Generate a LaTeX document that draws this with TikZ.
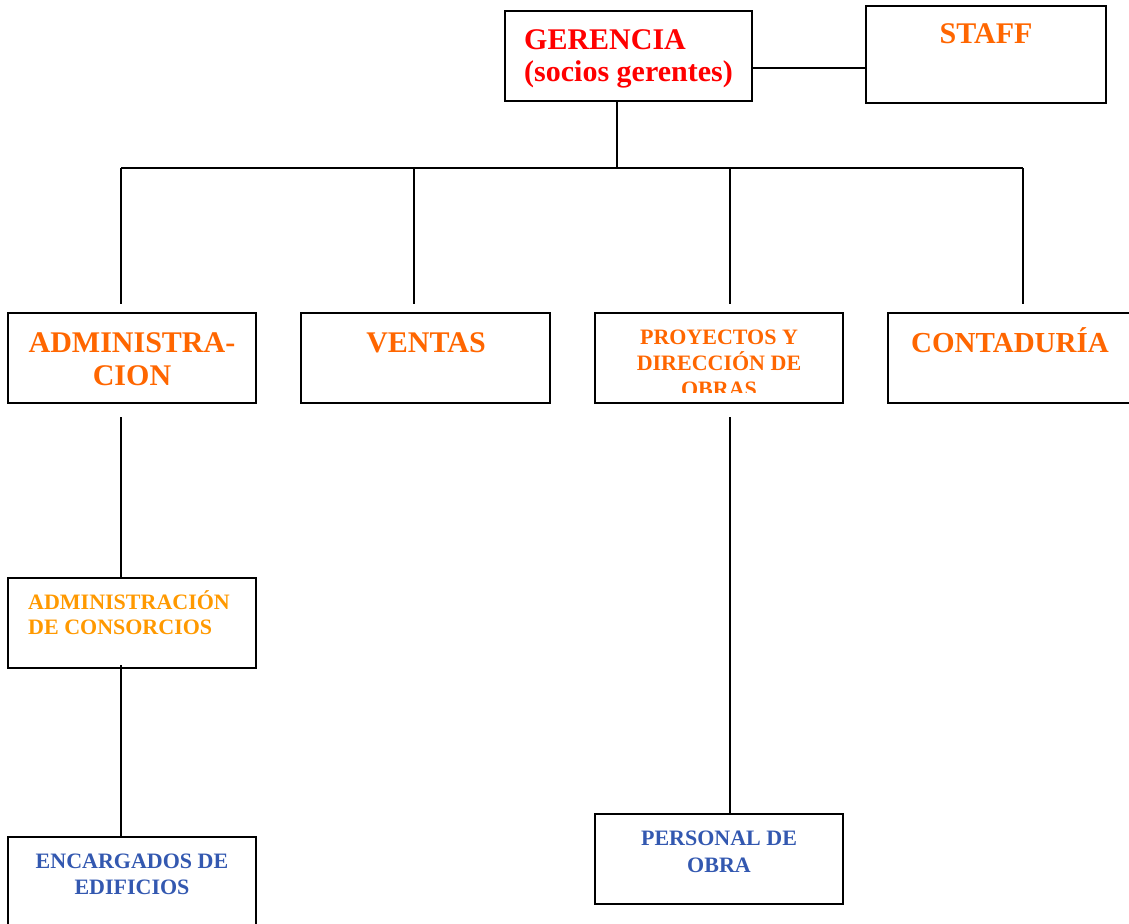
\documentclass[tikz,border=0pt]{standalone}
\usepackage{fontspec}
\setmainfont{Liberation Serif}
\definecolor{cred}{RGB}{255,0,0}
\definecolor{corange}{RGB}{255,102,0}
\definecolor{clight}{RGB}{255,153,0}
\definecolor{cblue}{RGB}{51,88,176}
\begin{document}
\begin{tikzpicture}[x=1pt,y=-1pt,
  box/.style={draw=black, line width=1.4pt, inner sep=0pt, minimum width=248pt, minimum height=90pt},
  conn/.style={draw=black, line width=1.3pt},
  big/.style={inner sep=0pt, font=\bfseries\fontsize{30}{33}\selectfont},
  small/.style={inner sep=0pt, font=\bfseries\fontsize{22}{26}\selectfont}]
\useasboundingbox (0,0) rectangle (1129,923);
% boxes
\node[box, minimum width=247pt] (ger) at (628.5,56) {};
\node[box, minimum width=240pt, minimum height=97pt] (staff) at (986,54.5) {};
\node[box] (adm) at (132,358) {};
\node[box, minimum width=249pt] (ven) at (425.5,358) {};
\node[box] (pro) at (719,358) {};
\node[box, minimum width=250pt] (con) at (1013,358) {};
\node[box] (cons) at (132,623) {};
\node[box, minimum height=94pt] (enc) at (132,884) {};
\node[box] (per) at (719,859) {};
% texts
\node[big, anchor=base west, text=cred] (tger1) at (524,50) {GERENCIA};
\node[big, anchor=base west, text=cred] (tger2) at (524,82) {(socios gerentes)};
\node[big, anchor=base, text=corange] (tstaff) at (986,44) {STAFF};
\node[big, anchor=base, text=corange] (tadm1) at (132,352) {ADMINISTRA-};
\node[big, anchor=base, text=corange] (tadm2) at (132,385) {CION};
\node[big, anchor=base, text=corange] (tven) at (426,352) {VENTAS};
\node[big, anchor=base, text=corange, font=\bfseries\fontsize{29}{33}\selectfont] (tcon) at (1010,352) {CONTADURÍA};
\begin{scope}
\clip (595,313) rectangle (843,392);
\node[small, anchor=base, text=corange] (tpro1) at (719,344) {PROYECTOS Y};
\node[small, anchor=base, text=corange] (tpro2) at (719,370) {DIRECCIÓN DE};
\node[small, anchor=base, text=corange] (tpro3) at (719,396) {OBRAS};
\end{scope}
\node[small, anchor=base west, text=clight] (tcons1) at (28,609) {ADMINISTRACIÓN};
\node[small, anchor=base west, text=clight] (tcons2) at (28,634) {DE CONSORCIOS};
\node[small, anchor=base, text=cblue] (tenc1) at (132,868) {ENCARGADOS DE};
\node[small, anchor=base, text=cblue] (tenc2) at (132,894) {EDIFICIOS};
\node[small, anchor=base, text=cblue] (tper1) at (719,845) {PERSONAL DE};
\node[small, anchor=base, text=cblue] (tper2) at (719,872) {OBRA};
% connectors
\coordinate (gs) at (752,68);
\draw[conn] (gs) -- (gs -| staff.west);
\coordinate (bus) at (617,168);
\draw[conn] (ger.south -| bus) -- (bus);
\coordinate (b1) at (121,168);
\coordinate (b2) at (414,168);
\coordinate (b3) at (730,168);
\coordinate (b4) at (1023,168);
\draw[conn] (b1) -- (b4);
\coordinate (d1) at (121,304);
\coordinate (d2) at (414,304);
\coordinate (d3) at (730,304);
\coordinate (d4) at (1023,304);
\draw[conn] (b1) -- (d1);
\draw[conn] (b2) -- (d2);
\draw[conn] (b3) -- (d3);
\draw[conn] (b4) -- (d4);
\coordinate (a1) at (121,417);
\draw[conn] (a1) -- (a1 |- cons.north);
\coordinate (a2) at (121,665);
\draw[conn] (a2) -- (a2 |- enc.north);
\coordinate (p1) at (730,417);
\draw[conn] (p1) -- (p1 |- per.north);
\end{tikzpicture}
\end{document}
